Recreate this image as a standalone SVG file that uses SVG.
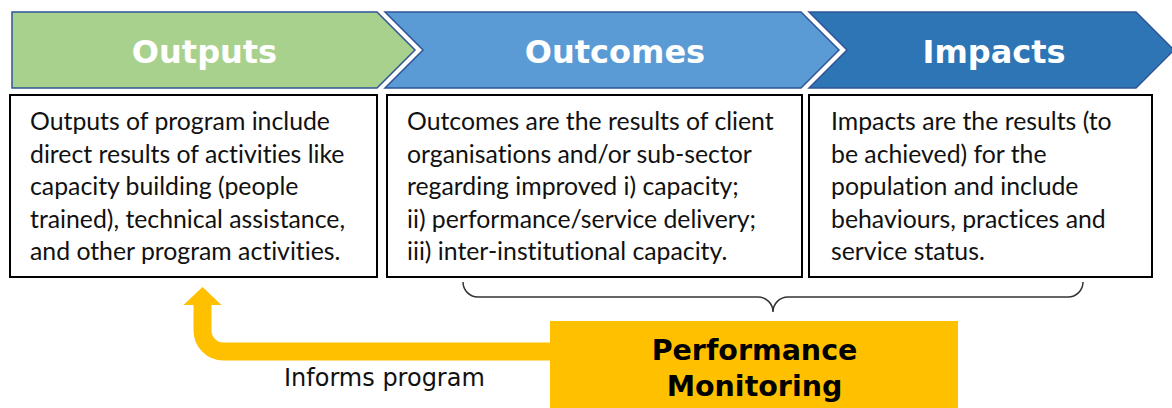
<svg xmlns="http://www.w3.org/2000/svg" width="1172" height="408" viewBox="0 0 1172 408">
  <style>
    .chev { stroke: #2f5597; stroke-width: 1.5; stroke-linejoin: miter; }
    .title { font-family: "DejaVu Sans", Verdana, sans-serif; font-weight: bold; font-size: 32px; fill: #ffffff; text-anchor: middle; }
    .box { fill: #ffffff; stroke: #000000; stroke-width: 2; }
    .body { font-family: Lato, "Liberation Sans", sans-serif; font-size: 24.8px; fill: #111111; font-variant-ligatures: none; }
    .pm { font-family: "DejaVu Sans", Verdana, sans-serif; font-weight: bold; font-size: 28.5px; fill: #000000; text-anchor: middle; }
    .label { font-family: "DejaVu Sans", Verdana, sans-serif; font-size: 24px; fill: #111111; }
  </style>
  <rect width="1172" height="408" fill="#ffffff"/>

  <!-- Outputs stage -->
  <g id="outputs">
    <polygon class="chev" fill="#a9d18e" points="12,12 377,12 415,50 377,88 12,88"/>
    <text class="title" x="204.5" y="63">Outputs</text>
    <rect class="box" x="10" y="95" width="367" height="182"/>
    <text class="body">
      <tspan x="30" y="130">Outputs of program include</tspan>
      <tspan x="30" y="162.6">direct results of activities like</tspan>
      <tspan x="30" y="195.2">capacity building (people</tspan>
      <tspan x="30" y="227.8">trained), technical assistance,</tspan>
      <tspan x="30" y="260.4">and other program activities.</tspan>
    </text>
  </g>

  <!-- Outcomes stage -->
  <g id="outcomes">
    <polygon class="chev" fill="#5b9bd5" points="385,12 801,12 839,50 801,88 385,88 423,50"/>
    <text class="title" x="615" y="63">Outcomes</text>
    <rect class="box" x="387" y="95" width="415" height="182"/>
    <text class="body">
      <tspan x="407" y="130">Outcomes are the results of client</tspan>
      <tspan x="407" y="162.6">organisations and/or sub-sector</tspan>
      <tspan x="407" y="195.2">regarding improved i) capacity;</tspan>
      <tspan x="407" y="227.8">ii) performance/service delivery;</tspan>
      <tspan x="407" y="260.4">iii) inter-institutional capacity.</tspan>
    </text>
  </g>

  <!-- Impacts stage -->
  <g id="impacts">
    <polygon class="chev" fill="#2e75b6" points="809,12 1136,12 1174,50 1136,88 809,88 847,50"/>
    <text class="title" x="994" y="63">Impacts</text>
    <rect class="box" x="809" y="95" width="343" height="182"/>
    <text class="body">
      <tspan x="831" y="130">Impacts are the results (to</tspan>
      <tspan x="831" y="162.6">be achieved) for the</tspan>
      <tspan x="831" y="195.2">population and include</tspan>
      <tspan x="831" y="227.8">behaviours, practices and</tspan>
      <tspan x="831" y="260.4">service status.</tspan>
    </text>
  </g>

  <!-- Performance monitoring -->
  <g id="performance-monitoring">
    <rect x="550" y="321" width="408" height="90" fill="#ffc000"/>
    <text class="pm" x="754.5" y="360">Performance</text>
    <text class="pm" x="754.5" y="396">Monitoring</text>
  </g>

  <!-- Connectors -->
  <g id="connectors">
    <!-- brace grouping outcomes and impacts -->
    <path d="M463,282 A15,15 0 0 0 478,297 L758,297 A15,15 0 0 1 773,312 A15,15 0 0 1 788,297 L1068,297 A15,15 0 0 0 1083,282" fill="none" stroke="#333333" stroke-width="1.5"/>
    <!-- feedback arrow back to outputs -->
    <path d="M551,351.5 L223.5,351.5 A21,21 0 0 1 202.5,330.5 L202.5,304" fill="none" stroke="#ffc000" stroke-width="18"/>
    <polygon points="183.5,305 221.5,305 202.5,287" fill="#ffc000"/>
    <text class="label" x="284" y="386">Informs program</text>
  </g>
</svg>
